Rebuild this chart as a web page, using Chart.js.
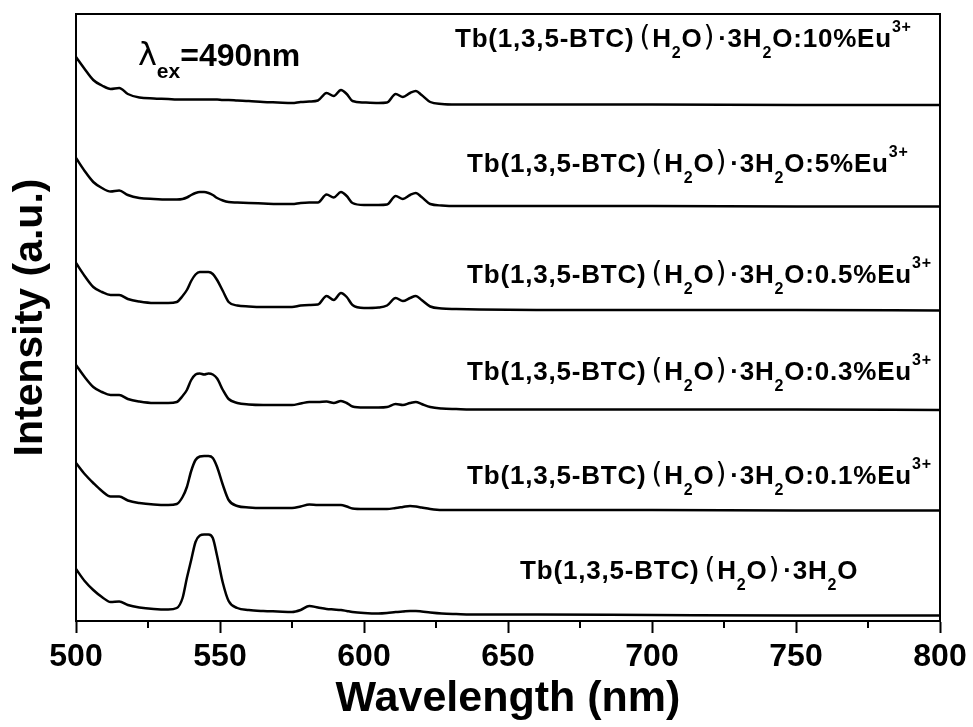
<!DOCTYPE html>
<html>
<head>
<meta charset="utf-8">
<script src="https://cdn.jsdelivr.net/npm/chart.js@4.4.0/dist/chart.umd.min.js"></script>
<style>
  html, body { margin: 0; padding: 0; background: #fff; }
</style>
</head>
<body>
<canvas id="myChart" width="973" height="727"></canvas>
<script>
// wavelength grid (nm)
const wavelengths = [500, 503, 506, 509, 512, 515, 518, 522, 527, 532,
  535, 537, 538.5, 540, 541.5, 543, 544.5, 546, 547.5, 549,
  551, 553, 556, 560, 565, 570, 575, 578, 581, 584,
  587, 589.5, 592, 594, 596, 600, 605, 608, 611, 613.5,
  616, 618, 620, 623, 627, 632, 640, 660, 700, 750, 800];

// intensities as plotted (already stacked with offsets), a.u.
const eu10 = [564, 552, 541, 535.5, 532, 533, 527, 523.5, 522.5, 522,
  521.5, 521.5, 521.5, 521.5, 521.5, 521.5, 521.5, 521.5, 521.5, 521.5,
  521, 521, 520.5, 520, 519, 518.5, 518, 519, 519.5, 520.5,
  528, 525, 531, 527, 520, 518.5, 518, 518.5, 527, 524,
  528, 530, 526, 519, 517, 516.5, 516.5, 516.5, 516.5, 516, 516];
const eu5 = [463, 450, 439, 433, 429.5, 430.5, 426, 423, 422, 421.5,
  421.5, 422, 423.5, 426, 428, 429, 429, 428, 426, 423,
  420.5, 419, 418.5, 418, 417.5, 417, 417, 418, 418.5, 418.5,
  426.5, 423.5, 429, 425, 418, 416, 416, 416.5, 425, 422,
  426, 428, 424, 417, 415.5, 415, 415, 415, 415, 414.5, 414.5];
const eu05 = [358, 345, 334, 329, 326, 326, 322, 319.5, 318, 318,
  319, 325, 331, 340, 346.5, 349, 349, 349, 347, 341,
  330, 319, 315.5, 314.5, 314, 314, 314, 315.5, 316, 316.5,
  325, 321, 328, 324, 316, 313, 313.5, 315.5, 323, 320,
  323, 325, 321, 314.5, 312.5, 312, 311.5, 311, 311, 311, 310.5];
const eu03 = [256, 244, 234, 229, 226, 226, 222, 219.5, 218, 218,
  219, 225, 231, 241, 246.5, 247.5, 246.5, 247.5, 246.5, 242.5,
  231, 222, 218, 216.5, 216, 216, 216, 217.5, 219, 219,
  219.5, 218, 220, 218, 214.5, 213.5, 213.5, 214, 217, 216,
  218, 219, 217, 214, 212.5, 212, 211.5, 211.5, 211.5, 211.5, 211];
const eu01 = [158, 147, 138, 130, 124.5, 124.5, 120.5, 118, 116.5, 116,
  117, 124, 134, 150, 161, 164.5, 165, 165, 163, 154,
  136, 121, 115, 113.5, 113, 113, 113, 114.5, 116.5, 116,
  116, 116, 116, 114.5, 112.5, 112, 112, 112, 113, 114,
  115, 114.5, 113.5, 112, 111, 111, 111, 111, 111, 110.5, 110.5];
const pure = [52, 40, 31, 24, 19, 19.5, 16, 13.5, 12, 11.5,
  13, 23, 43, 61, 79, 85.5, 86.5, 86.5, 83, 65,
  38, 20, 13, 11, 10, 9.5, 9, 11, 15, 13.5,
  12, 11.5, 11, 10, 9, 8, 7.5, 8, 9, 9.5,
  10, 10, 9.5, 8.5, 7.5, 7, 6.5, 6.5, 6, 5.5, 5.5];

const series = [eu10, eu5, eu05, eu03, eu01, pure];
const dopants = ['10%', '5%', '0.5%', '0.3%', '0.1%', ''];
// label anchor (left edge nm, centre a.u.)
const labelX = [631.6, 635.8, 635.8, 635.8, 635.8, 654.2];
const labelY = [581, 456, 345, 248, 144, 49];

const xTicks = [500, 550, 600, 650, 700, 750, 800];
const xMinor = [525, 575, 625, 675, 725, 775];

const BOLD = "'Liberation Sans', Arial, sans-serif";

// parts: [text, dy, font, gapBefore, gapAfter]
const drawParts = (ctx, parts, x, y) => {
  let cx = x;
  parts.forEach(p => {
    ctx.font = p[2];
    cx += p[3] || 0;
    ctx.fillText(p[0], cx, y + p[1]);
    cx += ctx.measureText(p[0]).width + (p[4] || 0);
  });
};

const formulaParts = (dop) => {
  const b = 'bold 26px ' + BOLD;
  const s = 'bold 16px ' + BOLD;
  const par = "normal 28px 'DejaVu Sans', sans-serif";
  let parts = [
    ['Tb(1,3,5-BTC)', 0, b], ['(', -1, par, 5, 1], ['H', 0, b], ['2', 14, s], ['O', 0, b],
    [')', -1, par, 1, 3], ['·3H', 0, b], ['2', 14, s], ['O', 0, b]
  ];
  if (dop) {
    parts.push([':' + dop + 'Eu', 0, b]);
    parts.push(['3+', -12, s]);
  }
  return parts;
};

const decorations = {
  id: 'decorations',
  afterDraw: (chart) => {
    const ctx = chart.ctx;
    const a = chart.chartArea;
    const xs = chart.scales.x;
    const ys = chart.scales.y;
    ctx.save();
    // frame
    ctx.strokeStyle = '#000';
    ctx.lineWidth = 2;
    ctx.strokeRect(a.left, a.top, a.right - a.left, a.bottom - a.top);
    // minor ticks
    xMinor.forEach(v => {
      const px = Math.round(xs.getPixelForValue(v));
      ctx.beginPath();
      ctx.moveTo(px, a.bottom);
      ctx.lineTo(px, a.bottom + 7);
      ctx.stroke();
    });
    // labels
    ctx.fillStyle = '#000';
    ctx.textBaseline = 'middle';
    ctx.textAlign = 'left';
    ctx.letterSpacing = '0.8px';
    dopants.forEach((d, i) => {
      drawParts(ctx, formulaParts(d), xs.getPixelForValue(labelX[i]), ys.getPixelForValue(labelY[i]));
    });
    ctx.letterSpacing = '0px';
    drawParts(ctx, [
      ['λ', 0, "normal 32px 'DejaVu Sans', sans-serif"],
      ['ex', 15, 'bold 21px ' + BOLD],
      ['=490nm', 0, 'bold 32px ' + BOLD]
    ], xs.getPixelForValue(521.5), ys.getPixelForValue(564));
    ctx.restore();
  }
};

const chart = () => {
  let ctx = document.getElementById('myChart');
  new Chart(ctx, {
    type: 'line',
    data: {
      datasets: series.map((s, i) => ({
        label: dopants[i] || 'pure',
        data: s.map((v, j) => ({ x: wavelengths[j], y: v })),
        borderColor: '#000',
        borderWidth: 2.5,
        pointRadius: 0,
        fill: false,
        cubicInterpolationMode: 'monotone'
      }))
    },
    options: {
      responsive: false,
      animation: false,
      layout: { padding: { top: 14, right: 33, left: 0, bottom: 0 } },
      plugins: { legend: { display: false }, tooltip: { enabled: false } },
      scales: {
        x: {
          type: 'linear',
          min: 500,
          max: 800,
          afterBuildTicks: (scale) => { scale.ticks = xTicks.map(v => ({ value: v })); },
          afterFit: (scale) => { scale.height = 106; },
          ticks: {
            color: '#000',
            padding: 5,
            maxRotation: 0,
            font: { family: BOLD, weight: 'bold', size: 32 }
          },
          grid: { drawOnChartArea: false, tickLength: 12, tickWidth: 2, color: '#000' },
          border: { display: true, color: '#000', width: 2 },
          title: {
            display: true,
            text: 'Wavelength (nm)',
            color: '#000',
            padding: { top: 0, bottom: 2 },
            font: { family: BOLD, weight: 'bold', size: 43 }
          }
        },
        y: {
          min: 0,
          max: 607,
          afterFit: (scale) => { scale.width = 76; },
          ticks: { display: false },
          grid: { display: false },
          border: { display: true, color: '#000', width: 2 },
          title: {
            display: true,
            text: 'Intensity (a.u.)',
            color: '#000',
            padding: { top: 6, bottom: 0 },
            font: { family: BOLD, weight: 'bold', size: 41 }
          }
        }
      }
    },
    plugins: [decorations]
  });
};

chart();
</script>
</body>
</html>
